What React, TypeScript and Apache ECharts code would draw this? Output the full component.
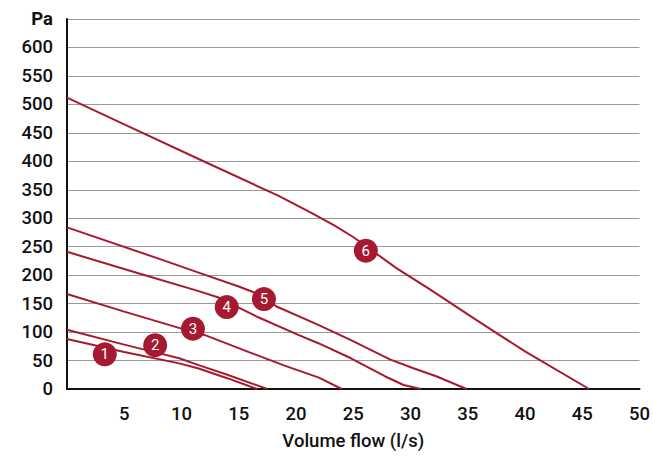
import React, { useEffect, useRef } from "react";
import * as echarts from "echarts";

const xTicks = [0, 5, 10, 15, 20, 25, 30, 35, 40, 45, 50];
const yTicks = [0, 50, 100, 150, 200, 250, 300, 350, 400, 450, 500, 550, 600, 650];
const yUnit = "Pa";
const xTitle = "Volume flow (l/s)";

const curve1 = [[0, 88], [5, 65], [9.8, 45], [11.5, 36], [14, 19], [16.6, 0]];
const curve2 = [[0, 104], [5, 78], [8, 63], [9.8, 54], [11.5, 42], [14, 25], [17.5, 0]];
const curve3 = [[0, 167], [5, 136], [10, 106], [12, 95], [16, 64], [19, 41], [22, 20], [24.0, 0]];
const curve4 = [[0, 241], [6.3, 203], [11.5, 172], [13.5, 159], [15, 143], [16.7, 126], [20.2, 95], [22, 80], [24.8, 54], [27.8, 22], [29.4, 7], [30.9, 0]];
const curve5 = [[0, 284], [8, 229], [12, 201], [15, 180], [16.3, 170], [17.5, 155], [18.3, 145], [21.9, 113], [24.8, 86], [28.2, 52], [30.2, 37], [32.3, 22], [34.9, 0]];
const curve6 = [[0, 512], [5, 465], [11.5, 404], [18.4, 340], [21.3, 310], [23.3, 288], [25, 267], [28.8, 212], [31.7, 175], [35.7, 122], [40, 66], [45.6, 0]];
const curves = [curve1, curve2, curve3, curve4, curve5, curve6];
const markerNames = ["1", "2", "3", "4", "5", "6"];
const markerPos = [[3.3, 61], [7.7, 77], [11.0, 106], [13.95, 144], [17.2, 158], [26.1, 243]];

const RED = "#a51a31";
const FONT = "Roboto";

export default function App() {
  const ref = useRef<HTMLDivElement>(null);
  useEffect(() => {
    if (!ref.current) return;
    const chart = echarts.init(ref.current, undefined, { renderer: "svg" });
    const series: any[] = curves.map((c, i) => ({
      type: "line",
      name: "c" + (i + 1),
      data: c,
      showSymbol: false,
      symbol: "none",
      lineStyle: { color: RED, width: 2 },
      z: 2,
    }));
    series.push({
      type: "scatter",
      data: markerPos.map((p, i) => ({ value: p, name: markerNames[i] })),
      symbol: "circle",
      symbolSize: 24,
      itemStyle: { color: RED, opacity: 1 },
      label: {
        show: true,
        position: "inside",
        formatter: (p: any) => p.name,
        color: "#fff",
        fontFamily: FONT,
        fontSize: 15,
      },
      z: 3,
    });
    chart.setOption({
      animation: false,
      backgroundColor: "#fff",
      grid: { left: 67, right: 8, top: 19, bottom: 68, containLabel: false },
      xAxis: {
        type: "value",
        min: xTicks[0],
        max: xTicks[xTicks.length - 1],
        interval: 5,
        axisLine: { show: true, lineStyle: { color: "#111", width: 2 } },
        axisTick: { show: false },
        splitLine: { show: false },
        axisLabel: {
          margin: 15,
          color: "#111",
          fontFamily: FONT,
          fontWeight: 500,
          fontSize: 18.5,
          formatter: (v: number) => (v === 0 ? "" : String(v)),
        },
        name: xTitle,
        nameLocation: "middle",
        nameGap: 42,
        nameTextStyle: { color: "#111", fontFamily: FONT, fontWeight: 500, fontSize: 18.5 },
      },
      yAxis: {
        type: "value",
        min: yTicks[0],
        max: yTicks[yTicks.length - 1],
        interval: 50,
        axisLine: { show: true, lineStyle: { color: "#111", width: 2 } },
        axisTick: { show: false },
        splitLine: { show: true, lineStyle: { color: "#9b9b9b", width: 1.2 } },
        axisLabel: {
          margin: 14,
          color: "#111",
          fontFamily: FONT,
          fontWeight: 500,
          fontSize: 18.5,
          formatter: (v: number) => (v === 650 ? "{b|" + yUnit + "}" : String(v)),
          rich: { b: { fontWeight: 700, fontSize: 18.5, fontFamily: FONT, color: "#111" } },
        },
      },
      series,
    });
    return () => chart.dispose();
  }, []);
  return (
    <div
      ref={ref}
      style={{ position: "fixed", left: 0, top: 0, width: 653, height: 457, background: "#fff" }}
    />
  );
}
